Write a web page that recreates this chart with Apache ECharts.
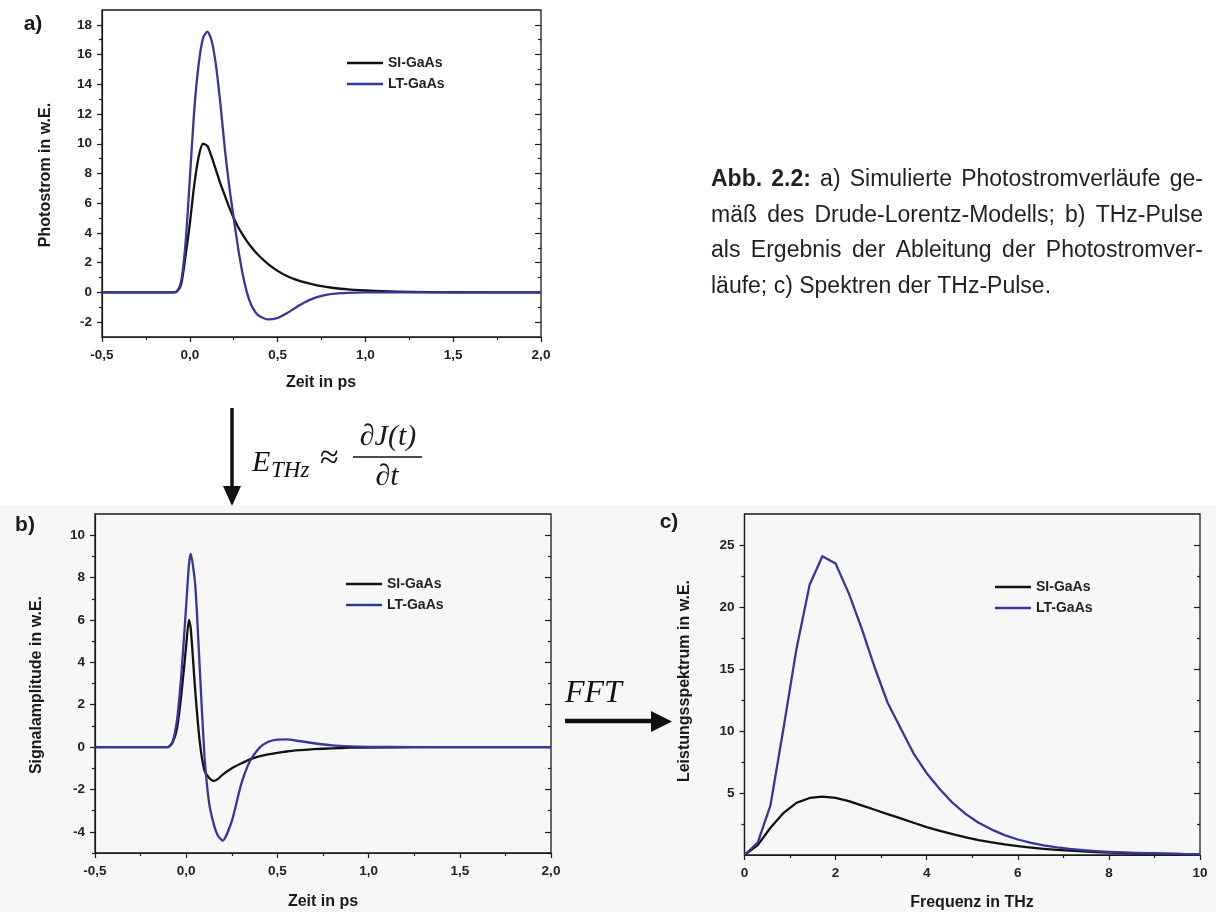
<!DOCTYPE html>
<html>
<head>
<meta charset="utf-8">
<script src="https://cdn.jsdelivr.net/npm/echarts@6/dist/echarts.min.js"></script>
<style>
  html, body { margin: 0; padding: 0; background: #fff; }
  #main { width: 1216px; height: 912px; }
</style>
</head>
<body>
<div id="main"></div>
<script>
// a) Photostrom (Zeit in ps)
const timeA = [-0.5, -0.1, -0.075, -0.05, -0.025, 0, 0.025, 0.05, 0.075, 0.1, 0.125, 0.15, 0.175, 0.2, 0.225, 0.25,
  0.275, 0.3, 0.325, 0.35, 0.375, 0.4, 0.45, 0.5, 0.55, 0.6, 0.65, 0.7, 0.75, 0.8, 0.9, 1.0, 1.1, 1.25, 1.5, 2.0];
const photoSI = [0, 0, 0.05, 0.5, 2.4, 4.6, 7.2, 9.1, 10.0, 9.85, 9.1, 8.2, 7.3, 6.5, 5.7, 5.0,
  4.4, 3.9, 3.45, 3.05, 2.7, 2.4, 1.87, 1.45, 1.12, 0.88, 0.69, 0.54, 0.42, 0.33, 0.2, 0.13, 0.08, 0.04, 0.01, 0];
const photoLT = [0, 0, 0.05, 0.7, 3.2, 7.6, 12.2, 15.3, 17.1, 17.55, 16.9, 15.2, 12.6, 9.6, 7.1, 5.0,
  3.0, 1.3, 0.0, -0.85, -1.35, -1.62, -1.82, -1.72, -1.42, -1.05, -0.7, -0.42, -0.23, -0.12, -0.03, 0, 0, 0, 0, 0];

// b) THz-Pulse (Zeit in ps)
const timeB = [-0.5, -0.1, -0.075, -0.05, -0.025, 0, 0.015, 0.025, 0.05, 0.075, 0.1, 0.125, 0.15, 0.175, 0.2,
  0.25, 0.3, 0.35, 0.4, 0.45, 0.5, 0.55, 0.6, 0.7, 0.8, 0.9, 1.0, 1.25, 1.5, 2.0];
const signalSI = [0, 0, 0.2, 0.9, 2.6, 4.8, 6.0, 5.6, 2.6, 0.2, -1.1, -1.45, -1.6, -1.5, -1.3,
  -1.0, -0.78, -0.58, -0.44, -0.34, -0.27, -0.21, -0.16, -0.1, -0.06, -0.03, -0.02, 0, 0, 0];
const signalLT = [0, 0, 0.25, 1.3, 3.6, 6.7, 8.6, 9.13, 7.6, 3.6, -0.4, -2.6, -3.6, -4.2, -4.42,
  -3.5, -1.8, -0.65, -0.05, 0.25, 0.35, 0.36, 0.31, 0.18, 0.08, 0.03, 0.01, 0, 0, 0];

// c) Spektren (Frequenz in THz)
const freqC = [0, 0.29, 0.57, 0.86, 1.14, 1.43, 1.71, 2.0, 2.29, 2.57, 2.86, 3.14, 3.43, 3.71, 4.0, 4.29, 4.57, 4.86,
  5.14, 5.43, 5.71, 6.0, 6.29, 6.57, 6.86, 7.14, 7.43, 7.71, 8.0, 8.29, 8.57, 8.86, 9.14, 9.43, 9.71, 10.0];
const powerSI = [0, 0.8, 2.2, 3.4, 4.2, 4.6, 4.7, 4.6, 4.35, 4.0, 3.65, 3.3, 2.95, 2.6, 2.25, 1.95, 1.68, 1.43,
  1.2, 1.02, 0.86, 0.72, 0.6, 0.5, 0.42, 0.35, 0.29, 0.24, 0.2, 0.17, 0.14, 0.12, 0.1, 0.08, 0.07, 0.06];
const powerLT = [0, 1.0, 4.0, 10.3, 16.6, 21.8, 24.1, 23.5, 21.1, 18.3, 15.1, 12.3, 10.2, 8.2, 6.6, 5.3, 4.2, 3.3,
  2.6, 2.05, 1.6, 1.25, 0.98, 0.78, 0.62, 0.5, 0.4, 0.32, 0.26, 0.21, 0.17, 0.14, 0.11, 0.09, 0.07, 0.06];

// ticks
const timeTicks = [-0.5, 0, 0.5, 1, 1.5, 2];
const timeMinor = [-0.25, 0.25, 0.75, 1.25, 1.75];
const photoTicks = [-2, 0, 2, 4, 6, 8, 10, 12, 14, 16, 18];
const photoMinor = [-1, 1, 3, 5, 7, 9, 11, 13, 15, 17];
const signalTicks = [-4, -2, 0, 2, 4, 6, 8, 10];
const signalMinor = [-5, -3, -1, 1, 3, 5, 7, 9];
const freqTicks = [0, 2, 4, 6, 8, 10];
const freqMinor = [1, 3, 5, 7, 9];
const powerTicks = [5, 10, 15, 20, 25];
const powerMinor = [2.5, 7.5, 12.5, 17.5, 22.5];

const captionLines = [
  'Abb. 2.2: a) Simulierte Photostromverläufe ge-',
  'mäß des Drude-Lorentz-Modells; b) THz-Pulse',
  'als Ergebnis der Ableitung der Photostromver-',
  'läufe; c) Spektren der THz-Pulse.'
];

const INK = '#1a1a1a';
const BLUE = '#35389a';
const SANS = '"Liberation Sans", Arial, sans-serif';
const SERIF = '"Liberation Serif", "DejaVu Serif", serif';

const comma = v => v.toFixed(1).replace('.', ',');

const xAxes = [];
const yAxes = [];

// each panel: bottom axis (labels + major ticks), bottom minor ticks,
// left axis (labels + major), left minor, right major/minor pointing inward
function addAxes(gi, xr, yr) {
  const line = { color: INK, width: 1.2 };
  const lab = { fontFamily: SANS, fontWeight: 'bold', fontSize: 13.5, color: '#222' };
  const xi = xAxes.length, yi = yAxes.length;
  const base = { gridIndex: gi, type: 'value', splitLine: { show: false } };
  xAxes.push(Object.assign({}, base, {
    min: xr.min, max: xr.max, position: 'bottom',
    axisLine: { show: true, onZero: false, lineStyle: line },
    axisTick: { show: true, length: 5, customValues: xr.major, lineStyle: line },
    axisLabel: Object.assign({ customValues: xr.major, formatter: xr.fmt, margin: 11 }, lab)
  }));
  xAxes.push(Object.assign({}, base, {
    min: xr.min, max: xr.max, position: 'bottom',
    axisLine: { show: false, onZero: false },
    axisTick: { show: true, length: 3, customValues: xr.minor, lineStyle: line },
    axisLabel: { show: false }
  }));
  yAxes.push(Object.assign({}, base, {
    min: yr.min, max: yr.max, position: 'left',
    axisLine: { show: true, onZero: false, lineStyle: line },
    axisTick: { show: true, length: 5, customValues: yr.major, lineStyle: line },
    axisLabel: Object.assign({ customValues: yr.major, margin: 10 }, lab)
  }));
  yAxes.push(Object.assign({}, base, {
    min: yr.min, max: yr.max, position: 'left',
    axisLine: { show: false, onZero: false },
    axisTick: { show: true, length: 3, customValues: yr.minor, lineStyle: line },
    axisLabel: { show: false }
  }));
  yAxes.push(Object.assign({}, base, {
    min: yr.min, max: yr.max, position: 'right',
    axisLine: { show: false, onZero: false },
    axisTick: { show: true, inside: true, length: 6, customValues: yr.major, lineStyle: line },
    axisLabel: { show: false }
  }));
  yAxes.push(Object.assign({}, base, {
    min: yr.min, max: yr.max, position: 'right',
    axisLine: { show: false, onZero: false },
    axisTick: { show: true, inside: true, length: 3, customValues: yr.minor, lineStyle: line },
    axisLabel: { show: false }
  }));
  return { xi, yi };
}

const axA = addAxes(0, { min: -0.5, max: 2, major: timeTicks, minor: timeMinor, fmt: comma },
  { min: -3, max: 19, major: photoTicks, minor: photoMinor });
const axB = addAxes(1, { min: -0.5, max: 2, major: timeTicks, minor: timeMinor, fmt: comma },
  { min: -5, max: 11, major: signalTicks, minor: signalMinor });
const axC = addAxes(2, { min: 0, max: 10, major: freqTicks, minor: freqMinor, fmt: v => String(v) },
  { min: 0, max: 27.5, major: powerTicks, minor: powerMinor });

const pairs = (xs, ys) => xs.map((x, i) => [x, ys[i]]);

function curve(name, color, ax, xs, ys, smooth) {
  return {
    name, type: 'line', xAxisIndex: ax.xi, yAxisIndex: ax.yi,
    data: pairs(xs, ys), showSymbol: false, smooth,
    lineStyle: { color, width: 2.3, join: 'round' }, itemStyle: { color }
  };
}

function legendAt(left, top) {
  return {
    left, top, orient: 'vertical', padding: 0, itemGap: 7,
    icon: 'rect', itemWidth: 36, itemHeight: 2.5, selectedMode: false,
    data: ['SI-GaAs', 'LT-GaAs'],
    textStyle: { fontFamily: SANS, fontWeight: 'bold', fontSize: 14, color: '#222', padding: [0, 0, 0, 0] }
  };
}

const gridStyle = { show: true, borderColor: INK, borderWidth: 1.3, backgroundColor: 'transparent', containLabel: false, outerBoundsMode: 'none' };

// text helpers for graphic elements
function label(text, x, y, font, extra) {
  return Object.assign({
    type: 'text', x, y,
    style: { text, font, fill: INK, align: 'center', verticalAlign: 'middle', textAlign: 'center', textVerticalAlign: 'middle' }
  }, extra || {});
}
function leftText(text, x, y, font) {
  return {
    type: 'text', x, y,
    style: { text, font, fill: '#111', align: 'left', verticalAlign: 'middle', textAlign: 'left', textVerticalAlign: 'middle' }
  };
}

// justified caption, word by word
const CAP_SIZE = 23, CAP_X = 711, CAP_W = 492, CAP_Y = [180, 216, 251, 287];
const measure = document.createElement('canvas').getContext('2d');
function capFont(bold) { return (bold ? 'bold ' : '') + CAP_SIZE + 'px ' + SANS; }
function wordWidth(w, bold) { measure.font = capFont(bold); return measure.measureText(w).width; }
const captionEls = [];
captionLines.forEach((ln, i) => {
  const words = ln.split(' ').map((w, j) => ({ w, bold: i === 0 && j < 2 }));
  const widths = words.map(o => wordWidth(o.w, o.bold));
  const total = widths.reduce((a, b) => a + b, 0);
  const gap = i < captionLines.length - 1 ? (CAP_W - total) / (words.length - 1) : wordWidth(' ', false);
  let x = CAP_X;
  words.forEach((o, j) => {
    captionEls.push({
      type: 'text', x, y: CAP_Y[i],
      style: { text: o.w, font: capFont(o.bold), fill: '#231f20', align: 'left', verticalAlign: 'middle', textAlign: 'left', textVerticalAlign: 'middle' }
    });
    x += widths[j] + gap;
  });
});

const bold16 = 'bold 16px ' + SANS;
const rot = { rotation: Math.PI / 2 };

const graphic = [
  { type: 'rect', z: -10, shape: { x: 0, y: 505, width: 1216, height: 407 }, style: { fill: '#f7f7f7' } },
  // panel letters
  label('a)', 33, 24, 'bold 21px ' + SANS),
  label('b)', 25, 525, 'bold 21px ' + SANS),
  label('c)', 669, 522, 'bold 21px ' + SANS),
  // axis titles
  label('Zeit in ps', 321, 383, bold16),
  label('Photostrom in w.E.', 46, 175, bold16, rot),
  label('Zeit in ps', 323, 902, bold16),
  label('Signalamplitude in w.E.', 37, 685, bold16, rot),
  label('Frequenz in THz', 972, 903, bold16),
  label('Leistungsspektrum in w.E.', 685, 681, bold16, rot),
  // down arrow + relation
  { type: 'line', shape: { x1: 232, y1: 408, x2: 232, y2: 490 }, style: { stroke: '#111', lineWidth: 3.5 } },
  { type: 'polygon', shape: { points: [[223, 486], [241, 486], [232, 506]] }, style: { fill: '#111' } },
  leftText('E', 252, 463, 'italic 30px ' + SERIF),
  leftText('THz', 271, 471, 'italic 23px ' + SERIF),
  leftText('≈', 320, 459, '34px ' + SERIF),
  label('∂J(t)', 388, 437, 'italic 30px ' + SERIF),
  { type: 'line', shape: { x1: 353, y1: 457, x2: 422, y2: 457 }, style: { stroke: '#111', lineWidth: 1.6 } },
  label('∂t', 387, 477, 'italic 30px ' + SERIF),
  // FFT arrow
  leftText('FFT', 565, 694, 'italic 32px ' + SERIF),
  { type: 'line', shape: { x1: 565, y1: 721, x2: 654, y2: 721 }, style: { stroke: '#111', lineWidth: 4.5 } },
  { type: 'polygon', shape: { points: [[651, 711], [651, 732], [672, 721.5]] }, style: { fill: '#111' } }
].concat(captionEls);

const chart = echarts.init(document.getElementById('main'), null, { renderer: 'canvas' });
chart.setOption({
  animation: false,
  backgroundColor: '#fff',
  textStyle: { fontFamily: SANS },
  grid: [
    Object.assign({ left: 102, top: 10, width: 439, height: 327 }, gridStyle),
    Object.assign({ left: 95, top: 514, width: 456, height: 339 }, gridStyle),
    Object.assign({ left: 744.5, top: 514, width: 455.5, height: 341 }, gridStyle)
  ],
  xAxis: xAxes,
  yAxis: yAxes,
  legend: [legendAt(347, 56), legendAt(346, 577), legendAt(995, 580)],
  series: [
    curve('SI-GaAs', '#111', axA, timeA, photoSI, 0.25),
    curve('LT-GaAs', BLUE, axA, timeA, photoLT, 0.25),
    curve('SI-GaAs', '#111', axB, timeB, signalSI, 0.2),
    curve('LT-GaAs', BLUE, axB, timeB, signalLT, 0.2),
    curve('SI-GaAs', '#111', axC, freqC, powerSI, false),
    curve('LT-GaAs', BLUE, axC, freqC, powerLT, false)
  ],
  graphic: graphic
});
</script>
</body>
</html>
